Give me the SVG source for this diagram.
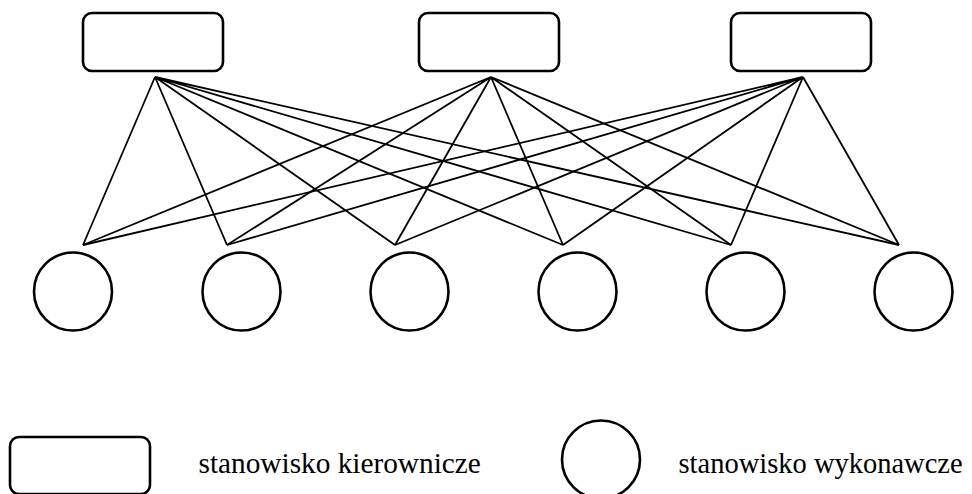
<svg xmlns="http://www.w3.org/2000/svg" width="972" height="494" viewBox="0 0 972 494">
<style>
.box{fill:#fff;stroke:#000;stroke-width:2.6}
.c{fill:#fff;stroke:#000;stroke-width:2.6}
.ln{stroke:#000;stroke-width:1.8;fill:none}
.t{font-family:"Liberation Serif","Times New Roman",serif;font-size:29px;fill:#000}
</style>
<rect width="972" height="494" fill="#fff"/>
<g id="connectors" class="ln">
<path d="M155 77L83 245M155 77L227 245M155 77L395 245M155 77L563 245M155 77L731 245M155 77L899 245"/>
<path d="M491 77L83 245M491 77L227 245M491 77L395 245M491 77L563 245M491 77L731 245M491 77L899 245"/>
<path d="M803 77L83 245M803 77L227 245M803 77L395 245M803 77L563 245M803 77L731 245M803 77L899 245"/>
</g>
<g id="m1"><rect class="box" x="83" y="13" width="140" height="58" rx="9"/></g>
<g id="m2"><rect class="box" x="419" y="13" width="140" height="58" rx="9"/></g>
<g id="m3"><rect class="box" x="731" y="13" width="140" height="58" rx="9"/></g>
<g id="w1"><circle class="c" cx="73" cy="291.5" r="39"/></g>
<g id="w2"><circle class="c" cx="241.5" cy="291.5" r="39"/></g>
<g id="w3"><circle class="c" cx="409.5" cy="291.5" r="39"/></g>
<g id="w4"><circle class="c" cx="577.5" cy="291.5" r="39"/></g>
<g id="w5"><circle class="c" cx="745.5" cy="291.5" r="39"/></g>
<g id="w6"><circle class="c" cx="913.5" cy="291.5" r="39"/></g>
<g id="legend-manager">
<rect class="box" x="10" y="437" width="140" height="57" rx="9"/>
<text class="t" x="198.5" y="473" style="font-size:29.3px">stanowisko kierownicze</text>
</g>
<g id="legend-worker">
<circle class="c" cx="601" cy="459.5" r="39"/>
<text class="t" x="678.5" y="473" style="font-size:28.5px">stanowisko wykonawcze</text>
</g>
</svg>
